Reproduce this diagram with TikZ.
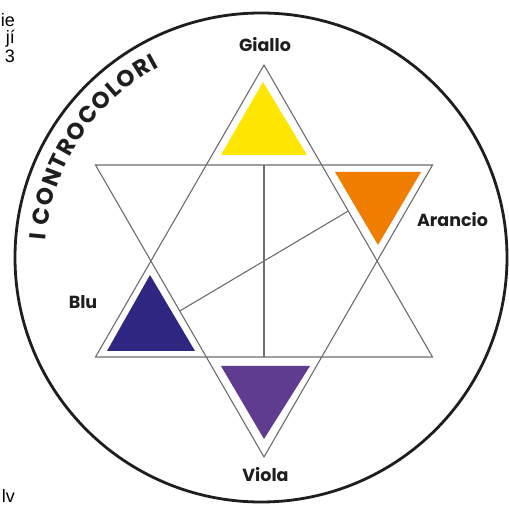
\documentclass[tikz,border=0pt]{standalone}
\usepackage{fontspec}
\setmainfont{Liberation Sans}
\newfontfamily\labelfont{Poppins}
\usetikzlibrary{decorations.text,calc}
\definecolor{cyellow}{RGB}{255,230,0}
\definecolor{corange}{RGB}{238,125,0}
\definecolor{cblue}{RGB}{46,38,128}
\definecolor{cviolet}{RGB}{96,60,145}
\definecolor{starline}{RGB}{110,110,110}
\definecolor{ink}{RGB}{30,30,30}
\tikzset{
  starstroke/.style={draw=starline, line width=1.1pt, line join=miter},
  colortri/.style={fill=#1, draw=none},
  colorlabel/.style={font=\labelfont\bfseries\fontsize{17.5}{17.5}\selectfont, text=ink, inner sep=0pt},
  straytext/.style={font=\fontsize{18}{18}\selectfont, text=black, inner sep=0pt, anchor=base east},
}
\begin{document}
\begin{tikzpicture}[x=1pt,y=1pt]
\path[fill=white, use as bounding box] (0,0) rectangle (509,506);
% outer circle
\coordinate (cen) at (261,248.5);
\draw[ink, line width=2.8pt] (cen) ellipse [x radius=246, y radius=244.5];
% star
\coordinate (uA) at (264,441);
\coordinate (uL) at (95.5,149);
\coordinate (uR) at (432.5,149);
\coordinate (dL) at (95.5,341);
\coordinate (dR) at (432.5,341);
\coordinate (dB) at (264,49);
\draw[starstroke] (uA) -- (uL) -- (uR) -- cycle;
\draw[starstroke] (dL) -- (dR) -- (dB) -- cycle;
% complementary connectors
\coordinate (mTop) at ($(dL)!0.5!(dR)$);
\coordinate (mBase) at ($(uL)!0.5!(uR)$);
\coordinate (mDL) at ($(dL)!0.5!(dB)$);
\coordinate (mUR) at ($(uA)!0.5!(uR)$);
\draw[starstroke] (mTop) -- (mBase);
\draw[starstroke] (mDL) -- (mUR);
% coloured triangles
\fill[colortri=cyellow] (263,424) -- (221,351) -- (307,351) -- cycle;
\fill[colortri=corange] (335,334) -- (421,334) -- (378,261) -- cycle;
\fill[colortri=cblue] (150,231) -- (107,155) -- (195,155) -- cycle;
\fill[colortri=cviolet] (221,140) -- (310,140) -- (264,67) -- cycle;
% labels
\node[colorlabel] (giallo) at (265,461) {Giallo};
\node[colorlabel] (arancio) at (452.5,286) {Arancio};
\node[colorlabel] (blu) at (83,203.5) {Blu};
\node[colorlabel] (viola) at (265.5,31) {Viola};
% curved title
\path[decorate, decoration={text along path, text align={fit to path},
  text={|\labelfont\bfseries\fontsize{23}{23}\selectfont\color{ink}|I CONTROCOLORI}}]
  ($(cen)+(175.5:216)$) arc[start angle=175.5, end angle=118, radius=216];
% stray fragments of neighbouring text
\node[straytext] (s1) at (15,479) {ie};
\node[straytext] (s2) at (15,462) {jí};
\node[straytext] (s3) at (15,443) {3};
\node[straytext] (s4) at (15,3) {lv};
\end{tikzpicture}
\end{document}
